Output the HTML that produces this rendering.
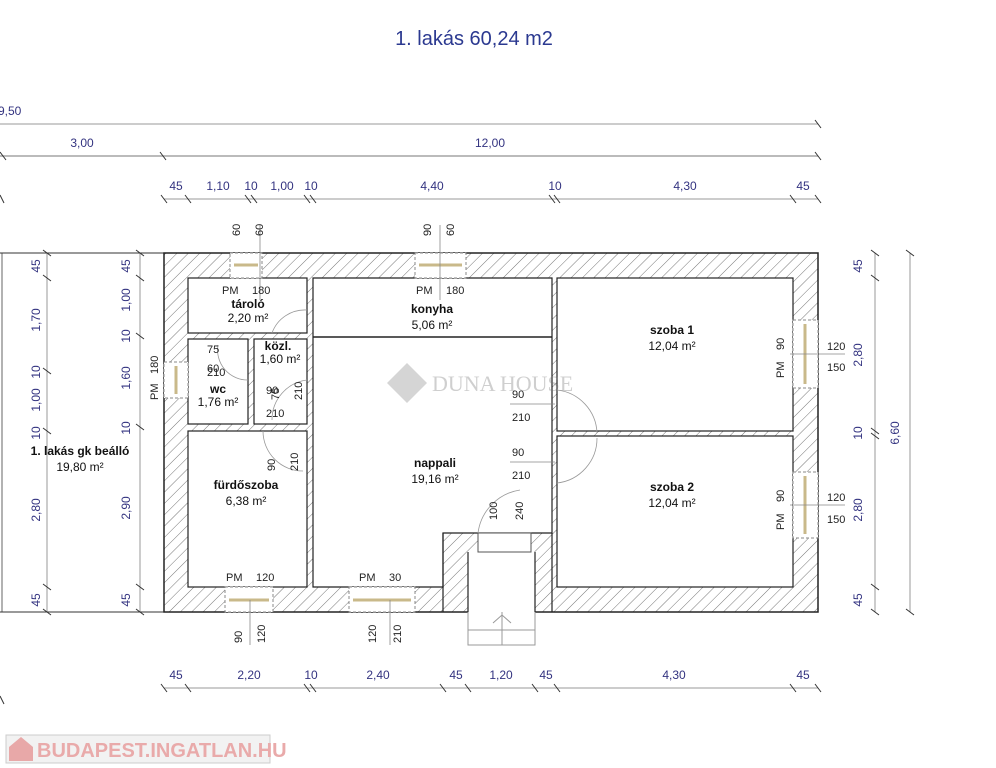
<!DOCTYPE html>
<html><head><meta charset="utf-8"><style>
html,body{margin:0;padding:0;background:#fff;}
svg{display:block;font-family:"Liberation Sans",sans-serif;}
.d{fill:#333380;font-size:12px;}
.r{fill:#111;font-size:12px;}
.b{font-weight:bold;}
.s{fill:#222;font-size:11px;}
</style></head><body>
<svg width="996" height="768" viewBox="0 0 996 768" xmlns="http://www.w3.org/2000/svg">
<defs>
<pattern id="h" width="8" height="8" patternUnits="userSpaceOnUse" patternTransform="rotate(45)">
<rect width="8" height="8" fill="#fff"/><line x1="0" y1="0" x2="0" y2="8" stroke="#777" stroke-width="1"/>
</pattern>
</defs>
<text x="474" y="45" text-anchor="middle" font-size="20" fill="#2b3990">1. lakás 60,24 m2</text>

<g stroke="#999" stroke-width="1">
<line x1="0" y1="124" x2="818" y2="124"/>
<line x1="0" y1="156" x2="818" y2="156" stroke-width="2" stroke="#bbb"/>
<line x1="164" y1="199" x2="818" y2="199"/>
<line x1="164" y1="688" x2="818" y2="688"/>
<line x1="47" y1="253" x2="47" y2="612"/>
<line x1="140" y1="253" x2="140" y2="612"/>
<line x1="875" y1="253" x2="875" y2="612"/>
<line x1="910" y1="253" x2="910" y2="612"/>
</g>
<g stroke="#333" stroke-width="1">
<path d="M0 195l4 8M0 696l4 8"/>
<path d="M815 120l6 8M0 152l6 8M160 152l6 8M815 152l6 8M161 195l6 8M185 195l6 8M245 195l6 8M251 195l6 8M304 195l6 8M310 195l6 8M549 195l6 8M554 195l6 8M790 195l6 8M815 195l6 8"/>
<path d="M161 684l6 8M185 684l6 8M304 684l6 8M310 684l6 8M440 684l6 8M465 684l6 8M532 684l6 8M554 684l6 8M790 684l6 8M815 684l6 8"/>
<path d="M871 250l8 6M871 275l8 6M871 428l8 6M871 433l8 6M871 584l8 6M871 609l8 6M906 250l8 6M906 609l8 6"/>
<path d="M43 250l8 6M43 275l8 6M43 368l8 6M43 428l8 6M43 584l8 6M43 609l8 6M136 250l8 6M136 275l8 6M136 333l8 6M136 424l8 6M136 584l8 6M136 609l8 6"/>
</g>
<text class="d" x="-2" y="115">9,50</text>
<text class="d" x="82" y="147" text-anchor="middle">3,00</text>
<text class="d" x="490" y="147" text-anchor="middle">12,00</text>
<g class="d" text-anchor="middle">
<text x="176" y="190">45</text><text x="218" y="190">1,10</text><text x="251" y="190">10</text><text x="282" y="190">1,00</text><text x="311" y="190">10</text><text x="432" y="190">4,40</text><text x="555" y="190">10</text><text x="685" y="190">4,30</text><text x="803" y="190">45</text>
<text x="176" y="679">45</text><text x="249" y="679">2,20</text><text x="311" y="679">10</text><text x="378" y="679">2,40</text><text x="456" y="679">45</text><text x="501" y="679">1,20</text><text x="546" y="679">45</text><text x="674" y="679">4,30</text><text x="803" y="679">45</text>
</g>
<g class="d" text-anchor="middle">
<text transform="translate(862,266) rotate(-90)">45</text>
<text transform="translate(862,355) rotate(-90)">2,80</text>
<text transform="translate(862,433) rotate(-90)">10</text>
<text transform="translate(862,510) rotate(-90)">2,80</text>
<text transform="translate(862,600) rotate(-90)">45</text>
<text transform="translate(899,433) rotate(-90)">6,60</text>
<text transform="translate(40,266) rotate(-90)">45</text>
<text transform="translate(40,320) rotate(-90)">1,70</text>
<text transform="translate(40,372) rotate(-90)">10</text>
<text transform="translate(40,400) rotate(-90)">1,00</text>
<text transform="translate(40,433) rotate(-90)">10</text>
<text transform="translate(40,510) rotate(-90)">2,80</text>
<text transform="translate(40,600) rotate(-90)">45</text>
<text transform="translate(130,266) rotate(-90)">45</text>
<text transform="translate(130,300) rotate(-90)">1,00</text>
<text transform="translate(130,336) rotate(-90)">10</text>
<text transform="translate(130,378) rotate(-90)">1,60</text>
<text transform="translate(130,428) rotate(-90)">10</text>
<text transform="translate(130,508) rotate(-90)">2,90</text>
<text transform="translate(130,600) rotate(-90)">45</text>
<text transform="translate(425,546) rotate(-90)">45</text>
<text transform="translate(425,572) rotate(-90)">55</text>
<text transform="translate(425,600) rotate(-90)">45</text>
</g>

<line x1="2" y1="253" x2="2" y2="612" stroke="#666"/>
<line x1="0" y1="612" x2="164" y2="612" stroke="#333"/>
<line x1="0" y1="253" x2="164" y2="253" stroke="#333"/>
<text class="r b" x="80" y="455" text-anchor="middle">1. lakás gk beálló</text>
<text class="r" x="80" y="471" text-anchor="middle">19,80 m²</text>

<rect x="164" y="253" width="654" height="359" fill="url(#h)" stroke="#222" stroke-width="1.5"/>
<g fill="#fff" stroke="#222" stroke-width="1.2">
<rect x="188" y="278" width="119" height="55"/>
<rect x="188" y="339" width="60" height="85"/>
<rect x="254" y="339" width="53" height="85"/>
<rect x="188" y="431" width="119" height="156"/>
<rect x="557" y="278" width="236" height="153"/>
<rect x="557" y="436" width="236" height="151"/>
<path d="M313 278H552V533H443V587H313Z"/>
</g>
<line x1="313" y1="337" x2="552" y2="337" stroke="#222" stroke-width="1.5"/>
<rect x="468" y="552" width="67" height="62" fill="#fff"/>
<path d="M468 552V612M535 552V612M443 533V612M552 533V612" stroke="#222" stroke-width="1.2"/>
<rect x="478" y="533" width="53" height="19" fill="#fff" stroke="#555"/>
<path d="M468 612V645H535V612M468 630H535M502 612V645M493 623l9-8 9 8" fill="none" stroke="#999"/>

<g fill="#fff" stroke="#888" stroke-dasharray="3 2">
<rect x="230" y="253" width="32" height="25"/>
<rect x="415" y="253" width="51" height="25"/>
<rect x="164" y="362" width="24" height="36"/>
<rect x="793" y="320" width="25" height="68"/>
<rect x="793" y="472" width="25" height="66"/>
<rect x="225" y="587" width="48" height="25"/>
<rect x="349" y="587" width="66" height="25"/>
</g>
<g stroke="#c9b98a" stroke-width="3">
<line x1="234" y1="265" x2="258" y2="265"/>
<line x1="419" y1="265" x2="462" y2="265"/>
<line x1="176" y1="366" x2="176" y2="394"/>
<line x1="805" y1="324" x2="805" y2="384"/>
<line x1="805" y1="476" x2="805" y2="534"/>
<line x1="229" y1="600" x2="269" y2="600"/>
<line x1="353" y1="600" x2="411" y2="600"/>
</g>
<g fill="none" stroke="#999" stroke-width="0.8">
<path d="M307 310A35 35 0 0 0 272 333"/>
<path d="M248 380A30 30 0 0 1 218 345"/>
<path d="M307 380A40 40 0 0 0 272 420"/>
<path d="M263 431A40 40 0 0 0 303 471"/>
<path d="M557 390A45 45 0 0 1 597 433"/>
<path d="M557 483A45 45 0 0 0 597 438"/>
<path d="M478 533A50 50 0 0 1 520 490"/>
</g>
<g stroke="#888" stroke-width="0.8">
<line x1="260" y1="225" x2="260" y2="300"/>
<line x1="440" y1="225" x2="440" y2="300"/>
<line x1="250" y1="600" x2="250" y2="645"/>
<line x1="390" y1="600" x2="390" y2="645"/>
<line x1="790" y1="354" x2="845" y2="354"/>
<line x1="790" y1="505" x2="845" y2="505"/>
<line x1="510" y1="404" x2="555" y2="404"/>
<line x1="510" y1="462" x2="555" y2="462"/>
</g>

<g opacity="0.35">
<path d="M387 383l20-20 20 20-20 20z" fill="#888"/>
<text x="432" y="391" font-family="Liberation Serif,serif" font-size="22" fill="#777">DUNA HOUSE</text>
</g>

<g text-anchor="middle">
<text class="r b" x="248" y="308" font-size="11">tároló</text><text class="r" x="248" y="322">2,20 m²</text>
<text class="r b" x="432" y="313">konyha</text><text class="r" x="432" y="329">5,06 m²</text>
<text class="r b" x="278" y="350" font-size="11">közl.</text><text class="r" x="280" y="363" font-size="11">1,60 m²</text>
<text class="r b" x="218" y="393" font-size="11">wc</text><text class="r" x="218" y="406" font-size="11">1,76 m²</text>
<text class="r b" x="246" y="489">fürdőszoba</text><text class="r" x="246" y="505">6,38 m²</text>
<text class="r b" x="435" y="467">nappali</text><text class="r" x="435" y="483">19,16 m²</text>
<text class="r b" x="672" y="334">szoba 1</text><text class="r" x="672" y="350">12,04 m²</text>
<text class="r b" x="672" y="491">szoba 2</text><text class="r" x="672" y="507">12,04 m²</text>
</g>
<g class="s">
<text x="222" y="294">PM</text><text x="252" y="294">180</text>
<text x="416" y="294">PM</text><text x="446" y="294">180</text>
<text x="226" y="581">PM</text><text x="256" y="581">120</text>
<text x="359" y="581">PM</text><text x="389" y="581">30</text>
<text x="207" y="353">75</text><text x="207" y="372">60</text><text x="207" y="376">210</text>
<text x="266" y="394">90</text><text x="266" y="417">210</text>
<text x="512" y="398">90</text><text x="512" y="421">210</text>
<text x="512" y="456">90</text><text x="512" y="479">210</text>
<text x="827" y="350">120</text><text x="827" y="371">150</text>
<text x="827" y="501">120</text><text x="827" y="523">150</text>
<text transform="translate(158,400) rotate(-90)">PM</text><text transform="translate(158,374) rotate(-90)">180</text>
<text transform="translate(784,378) rotate(-90)">PM</text><text transform="translate(784,350) rotate(-90)">90</text>
<text transform="translate(784,530) rotate(-90)">PM</text><text transform="translate(784,502) rotate(-90)">90</text>
<text transform="translate(240,236) rotate(-90)">60</text><text transform="translate(263,236) rotate(-90)">60</text>
<text transform="translate(431,236) rotate(-90)">90</text><text transform="translate(454,236) rotate(-90)">60</text>
<text transform="translate(242,643) rotate(-90)">90</text><text transform="translate(265,643) rotate(-90)">120</text>
<text transform="translate(376,643) rotate(-90)">120</text><text transform="translate(401,643) rotate(-90)">210</text>
<text transform="translate(279,400) rotate(-90)">75</text><text transform="translate(302,400) rotate(-90)">210</text>
<text transform="translate(275,471) rotate(-90)">90</text><text transform="translate(298,471) rotate(-90)">210</text>
<text transform="translate(497,520) rotate(-90)">100</text><text transform="translate(523,520) rotate(-90)">240</text>
</g>

<rect x="6" y="735" width="264" height="28" fill="#f2f2f2" stroke="#ccc"/>
<path d="M9 747l12-10 12 10v14H9z" fill="#e8a8a8"/>
<text x="37" y="757" font-size="20" font-weight="bold" fill="#e9aaaa">BUDAPEST.INGATLAN.HU</text>
</svg>
</body></html>
